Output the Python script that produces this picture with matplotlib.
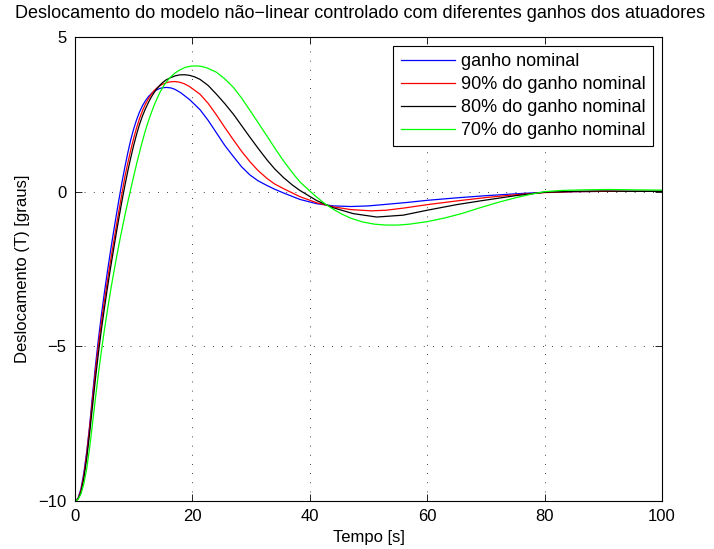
import matplotlib
matplotlib.use("Agg")
import matplotlib.pyplot as plt

plt.rcParams['font.family'] = ['Liberation Sans', 'DejaVu Sans']

title = "Deslocamento do modelo não\u2212linear controlado com diferentes ganhos dos atuadores"
xlabel = "Tempo [s]"
ylabel = "Deslocamento (T) [graus]"
labels = ["ganho nominal", "90% do ganho nominal", "80% do ganho nominal", "70% do ganho nominal"]
colors = ["#0000ff", "#ff0000", "#000000", "#00ff00"]
xticks = [0, 20, 40, 60, 80, 100]
yticks = [-10, -5, 0, 5]

t_blue = [0, 0.5, 1.0, 1.5, 2.0, 2.5, 3.0, 3.5, 4.0, 4.5, 5.0, 5.5, 6.0, 6.5, 7.0, 7.5, 8.0, 8.5, 9.0,
          9.5, 10.0, 10.5, 11.0, 11.5, 12.0, 12.5, 13.0, 13.5, 14.0, 14.5, 15.0, 15.6, 16.3, 17.0, 18.0,
          19.5, 21.3, 22.7, 24.1, 25.5, 27.0, 28.4, 29.8, 31.2, 32.7, 34.0, 35.5, 38.3, 41.2, 44.0, 47.0,
          50.0, 53.0, 56.5, 60.0, 65.0, 70.0, 75.0, 80.0, 85.0, 90.0, 95.0, 100.0]
y_blue = [-10, -9.92, -9.62, -9.1, -8.4, -7.55, -6.55, -5.6, -4.75, -3.98, -3.27, -2.61, -1.98, -1.38,
          -0.8, -0.24, 0.3, 0.8, 1.26, 1.68, 2.03, 2.33, 2.58, 2.78, 2.94, 3.07, 3.17, 3.25, 3.3, 3.34,
          3.36, 3.37, 3.355, 3.31, 3.2, 2.98, 2.65, 2.3, 1.9, 1.5, 1.13, 0.8, 0.54, 0.35, 0.2, 0.08,
          -0.04, -0.25, -0.39, -0.46, -0.48, -0.46, -0.41, -0.35, -0.28, -0.2, -0.13, -0.07, -0.02, 0.0,
          0.01, 0.01, 0.01]

t_red = [0, 0.5, 1.0, 1.5, 2.0, 2.5, 3.0, 3.5, 4.0, 4.5, 5.0, 5.5, 6.0, 6.5, 7.0, 7.5, 8.0, 8.5, 9.0,
         9.5, 10.0, 10.5, 11.0, 11.5, 12.0, 12.5, 13.0, 13.5, 14.0, 14.5, 15.0, 15.5, 16.2, 17.0, 17.8,
         18.6, 19.5, 21.3, 22.7, 24.1, 25.5, 27.0, 28.4, 29.8, 31.2, 32.7, 34.0, 35.5, 38.3, 41.2, 44.0,
         47.0, 50.5, 53.0, 56.0, 60.0, 65.0, 70.0, 75.0, 80.0, 85.0, 90.0, 95.0, 100.0]
y_red = [-10, -9.93, -9.67, -9.18, -8.48, -7.62, -6.68, -5.77, -4.95, -4.22, -3.54, -2.91, -2.3, -1.72,
         -1.15, -0.6, -0.05, 0.48, 0.93, 1.35, 1.73, 2.07, 2.37, 2.62, 2.83, 3.0, 3.15, 3.27, 3.36, 3.43,
         3.48, 3.52, 3.55, 3.56, 3.54, 3.49, 3.4, 3.15, 2.85, 2.48, 2.08, 1.67, 1.3, 0.97, 0.68, 0.43,
         0.25, 0.1, -0.16, -0.36, -0.49, -0.58, -0.62, -0.6, -0.53, -0.42, -0.3, -0.19, -0.1, -0.03, 0.0,
         0.01, 0.01, 0.01]

t_black = [0, 0.5, 1.0, 1.5, 2.0, 2.5, 3.0, 3.5, 4.0, 4.5, 5.0, 5.5, 6.0, 6.5, 7.0, 7.5, 8.0, 8.5, 9.0,
           9.5, 10.0, 10.5, 11.0, 11.5, 12.0, 12.5, 13.0, 13.5, 14.0, 14.5, 15.0, 15.5, 16.2, 17.0, 17.8,
           18.7, 19.5, 20.4, 21.3, 22.7, 24.1, 25.5, 27.0, 28.4, 29.8, 31.2, 32.7, 34.0, 35.5, 37.0, 38.3,
           41.2, 44.0, 47.4, 51.4, 55.9, 60.0, 65.0, 69.0, 75.0, 80.0, 85.0, 90.0, 95.0, 100.0]
y_black = [-10, -9.94, -9.72, -9.28, -8.62, -7.8, -6.9, -6.02, -5.2, -4.46, -3.78, -3.14, -2.53, -1.95,
           -1.38, -0.83, -0.3, 0.2, 0.67, 1.1, 1.5, 1.86, 2.18, 2.45, 2.68, 2.88, 3.06, 3.21, 3.34, 3.45,
           3.54, 3.61, 3.68, 3.74, 3.775, 3.78, 3.76, 3.71, 3.63, 3.43, 3.15, 2.85, 2.5, 2.13, 1.76, 1.4,
           1.03, 0.74, 0.46, 0.22, 0.04, -0.29, -0.52, -0.71, -0.82, -0.76, -0.6, -0.42, -0.3, -0.13,
           -0.02, 0.01, 0.02, 0.01, 0.01]

t_green = [0, 0.5, 1.0, 1.5, 2.0, 2.5, 3.0, 3.5, 4.0, 4.5, 5.0, 5.5, 6.0, 6.5, 7.0, 7.5, 8.0, 8.5, 9.0,
           9.4, 10.0, 10.6, 11.3, 12.0, 12.5, 13.0, 13.5, 14.0, 14.5, 15.0, 15.5, 16.2, 17.0, 17.8, 18.8,
           19.8, 20.7, 21.5, 22.5, 24.1, 25.5, 27.0, 28.4, 29.8, 31.2, 32.7, 34.0, 35.5, 37.0, 38.3, 40.0,
           41.2, 42.5, 44.0, 45.5, 47.0, 49.0, 51.0, 53.0, 55.0, 57.0, 60.0, 63.0, 66.0, 69.0, 72.0, 75.0,
           78.0, 80.0, 83.0, 87.0, 91.0, 95.0, 100.0]
y_green = [-10, -9.95, -9.78, -9.45, -8.95, -8.27, -7.47, -6.65, -5.87, -5.15, -4.48, -3.86, -3.27,
           -2.72, -2.2, -1.7, -1.22, -0.76, -0.33, 0.0, 0.5, 0.98, 1.5, 1.98, 2.28, 2.55, 2.8, 3.02,
           3.22, 3.39, 3.53, 3.69, 3.83, 3.93, 4.02, 4.06, 4.065, 4.05, 4.0, 3.86, 3.65, 3.37, 3.02, 2.63,
           2.23, 1.8, 1.42, 1.0, 0.62, 0.32, 0.02, -0.18, -0.38, -0.57, -0.73, -0.86, -0.98, -1.05, -1.08,
           -1.08, -1.05, -0.97, -0.85, -0.7, -0.52, -0.35, -0.2, -0.07, 0.0, 0.04, 0.06, 0.07, 0.06, 0.05]

series_t = [t_blue, t_red, t_black, t_green]
series_y = [y_blue, y_red, y_black, y_green]

fig = plt.figure(figsize=(7.14, 5.49), dpi=100)
ax = fig.add_axes([75 / 714, 48 / 549, 587 / 714, 464 / 549])

for tt, yy, c, lab in zip(series_t, series_y, colors, labels):
    ax.plot(tt, yy, color=c, linewidth=0.9, label=lab)

ax.set_xlim(0, 100)
ax.set_ylim(-10, 5)
ax.set_xticks(xticks)
ax.set_yticks(yticks)
ax.set_xticklabels([str(v) for v in xticks])
ax.set_yticklabels([str(v).replace('-', '\u2212') for v in yticks])
ax.tick_params(direction='in', top=True, right=True, length=5, width=0.6, labelsize=12, pad=6)
ax.grid(True, color='black', linestyle=(0, (1, 10)), linewidth=0.6)
for s in ax.spines.values():
    s.set_linewidth(0.8)

fig.text(360 / 714, 1 - 14 / 549, title, fontsize=13, ha='center', va='center')
ax.set_xlabel(xlabel, fontsize=12, labelpad=4)
ax.set_ylabel(ylabel, fontsize=12, labelpad=6)

leg = ax.legend(loc='upper right', fontsize=13, frameon=True, fancybox=False, shadow=False,
                handlelength=3.0, handletextpad=0.35, labelspacing=0.33, borderpad=0.4,
                borderaxespad=0.5)
leg.get_frame().set_edgecolor('black')
leg.get_frame().set_linewidth(0.8)
leg.get_frame().set_alpha(1)

fig.savefig("out.png", dpi=100)
